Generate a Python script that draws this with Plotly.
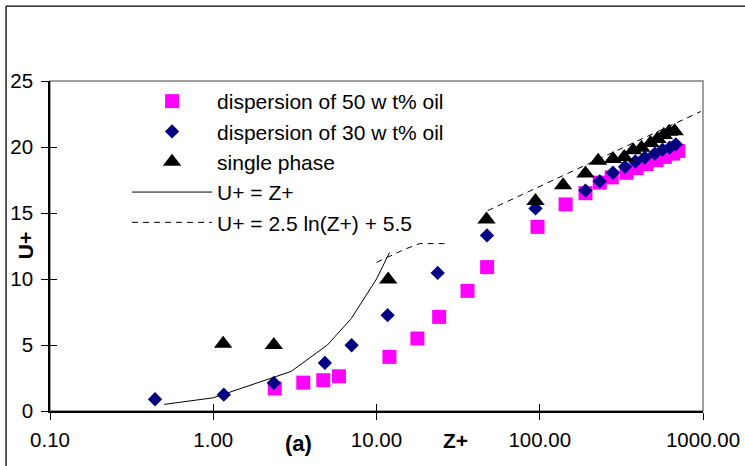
import plotly.graph_objects as go

# ---- data ----
sq_z = [2.38, 3.56, 4.72, 5.89, 12.0, 17.8, 24.2, 36.1, 47.6, 96.9, 144, 190.6, 233, 276, 340, 392, 451, 519, 583, 656, 703]
sq_u = [1.7, 2.15, 2.33, 2.63, 4.1, 5.49, 7.13, 9.1, 10.9, 13.95, 15.65, 16.5, 17.3, 17.7, 18.05, 18.4, 18.7, 19.0, 19.25, 19.5, 19.7]

di_z = [0.44, 1.16, 2.35, 4.83, 7.04, 11.7, 23.7, 47.5, 94.2, 190.6, 233, 281, 333, 385, 440, 507, 565, 626, 681]
di_u = [0.89, 1.24, 2.12, 3.64, 4.98, 7.26, 10.46, 13.3, 15.35, 16.7, 17.4, 18.05, 18.5, 18.9, 19.2, 19.5, 19.8, 19.95, 20.2]

tr_z = [1.15, 2.35, 11.8, 47.2, 94.2, 139, 190.6, 228, 281, 329, 373, 420, 477, 526, 575, 620, 671]
tr_u = [5.1, 5.0, 9.96, 14.5, 15.9, 17.1, 18.0, 18.95, 19.1, 19.25, 19.75, 19.95, 20.3, 20.6, 20.9, 21.15, 21.2]

lin_z = [0.5, 1, 3, 5, 7, 10, 12]
lin_u = [0.5, 1, 3, 5, 7, 10, 12]

log_z = [10, 12, 15, 18.4, 26.1, None, 48, 100, 200, 500, 970]
log_u = [11.26, 11.71, 12.27, 12.68, 12.68, None, 15.18, 17.01, 18.75, 21.04, 22.69]

x_tickvals = [0.1, 1, 10, 100, 1000]
x_ticktext = ["0.10", "1.00", "10.00", "100.00", "1000.00"]
y_tickvals = [0, 5, 10, 15, 20, 25]

names = ["dispersion of 50 w t% oil", "dispersion of 30 w t% oil", "single phase",
         "U+ = Z+", "U+ = 2.5 ln(Z+) + 5.5"]

FONT = "Liberation Sans, Arial, sans-serif"

fig = go.Figure()
fig.add_trace(go.Scatter(x=lin_z, y=lin_u, mode="lines", name=names[3], legendrank=4,
                         line=dict(color="black", width=1)))
fig.add_trace(go.Scatter(x=log_z, y=log_u, mode="lines", name=names[4], legendrank=5,
                         connectgaps=False, line=dict(color="black", width=1, dash="6px,5px")))
fig.add_trace(go.Scatter(x=sq_z, y=sq_u, mode="markers", name=names[0], legendrank=1,
                         marker=dict(symbol="square", size=14, color="#FF00FF")))
fig.add_trace(go.Scatter(x=di_z, y=di_u, mode="markers", name=names[1], legendrank=2,
                         marker=dict(symbol="diamond", size=11, color="#000080")))
fig.add_trace(go.Scatter(x=tr_z, y=tr_u, mode="markers", name=names[2], legendrank=3,
                         marker=dict(symbol="triangle-up", size=16, color="black")))
# helper (invisible) trace for the inner tick axes
fig.add_trace(go.Scatter(x=[1], y=[0], xaxis="x2", yaxis="y2", mode="markers",
                         marker=dict(opacity=0), showlegend=False, hoverinfo="skip"))

axis_common = dict(showgrid=False, zeroline=False, tickcolor="black", tickwidth=1.3,
                   ticklen=7, automargin=False)

BX = -0.0673   # outer chart frame, left edge (paper units)
BY = 1.227     # outer chart frame, top edge (paper units)

fig.update_layout(
    width=745, height=466,
    margin=dict(l=50, r=42, t=81, b=55),
    paper_bgcolor="white", plot_bgcolor="white",
    font=dict(family=FONT, color="black"),
    xaxis=dict(type="log", range=[-1, 3], tickvals=x_tickvals, ticktext=x_ticktext,
               ticks="outside", showline=True, linecolor="black", linewidth=1.5,
               tickfont=dict(size=20.5, family=FONT), ticklabelstandoff=3, **axis_common),
    yaxis=dict(range=[0, 25], tickvals=y_tickvals, ticks="outside", showline=True,
               linecolor="black", linewidth=1.5, tickfont=dict(size=20.5, family=FONT),
               ticklabelstandoff=4, **axis_common),
    xaxis2=dict(type="log", range=[-1, 3], tickvals=x_tickvals, ticks="inside",
                showticklabels=False, overlaying="x", anchor="y2", showline=False, **axis_common),
    yaxis2=dict(range=[0, 25], tickvals=y_tickvals, ticks="inside", showticklabels=False,
                overlaying="y", anchor="x2", side="left", showline=False, **axis_common),
    legend=dict(x=0.118, y=1.0, xanchor="left", yanchor="top", bgcolor="rgba(0,0,0,0)",
                font=dict(size=21, family=FONT, color="black"), itemwidth=80,
                tracegroupgap=0),
    shapes=[
        dict(type="rect", xref="paper", yref="paper", x0=0, x1=1, y0=0, y1=1,
             line=dict(color="#808080", width=1.5), layer="below"),
        dict(type="line", xref="paper", yref="paper", x0=BX, x1=1.07, y0=BY, y1=BY,
             line=dict(color="black", width=1.3)),
        dict(type="line", xref="paper", yref="paper", x0=BX, x1=BX, y0=-0.17, y1=BY,
             line=dict(color="black", width=1.3)),
    ],
    annotations=[
        dict(text="<b>U+</b>", xref="paper", yref="paper", x=-0.038, y=0.5, textangle=-90,
             xanchor="center", yanchor="middle", showarrow=False, font=dict(size=21, family=FONT)),
        dict(text="<b>Z+</b>", xref="paper", yref="paper", x=0.6215, y=-0.089,
             xanchor="center", yanchor="middle", showarrow=False, font=dict(size=21, family=FONT)),
        dict(text="<b>(a)</b>", xref="paper", yref="paper", x=0.381, y=-0.097,
             xanchor="center", yanchor="middle", showarrow=False, font=dict(size=22, family=FONT)),
    ],
)

fig.write_html("out.html", config={"displayModeBar": False},
               post_script="document.body.style.margin='0';")
